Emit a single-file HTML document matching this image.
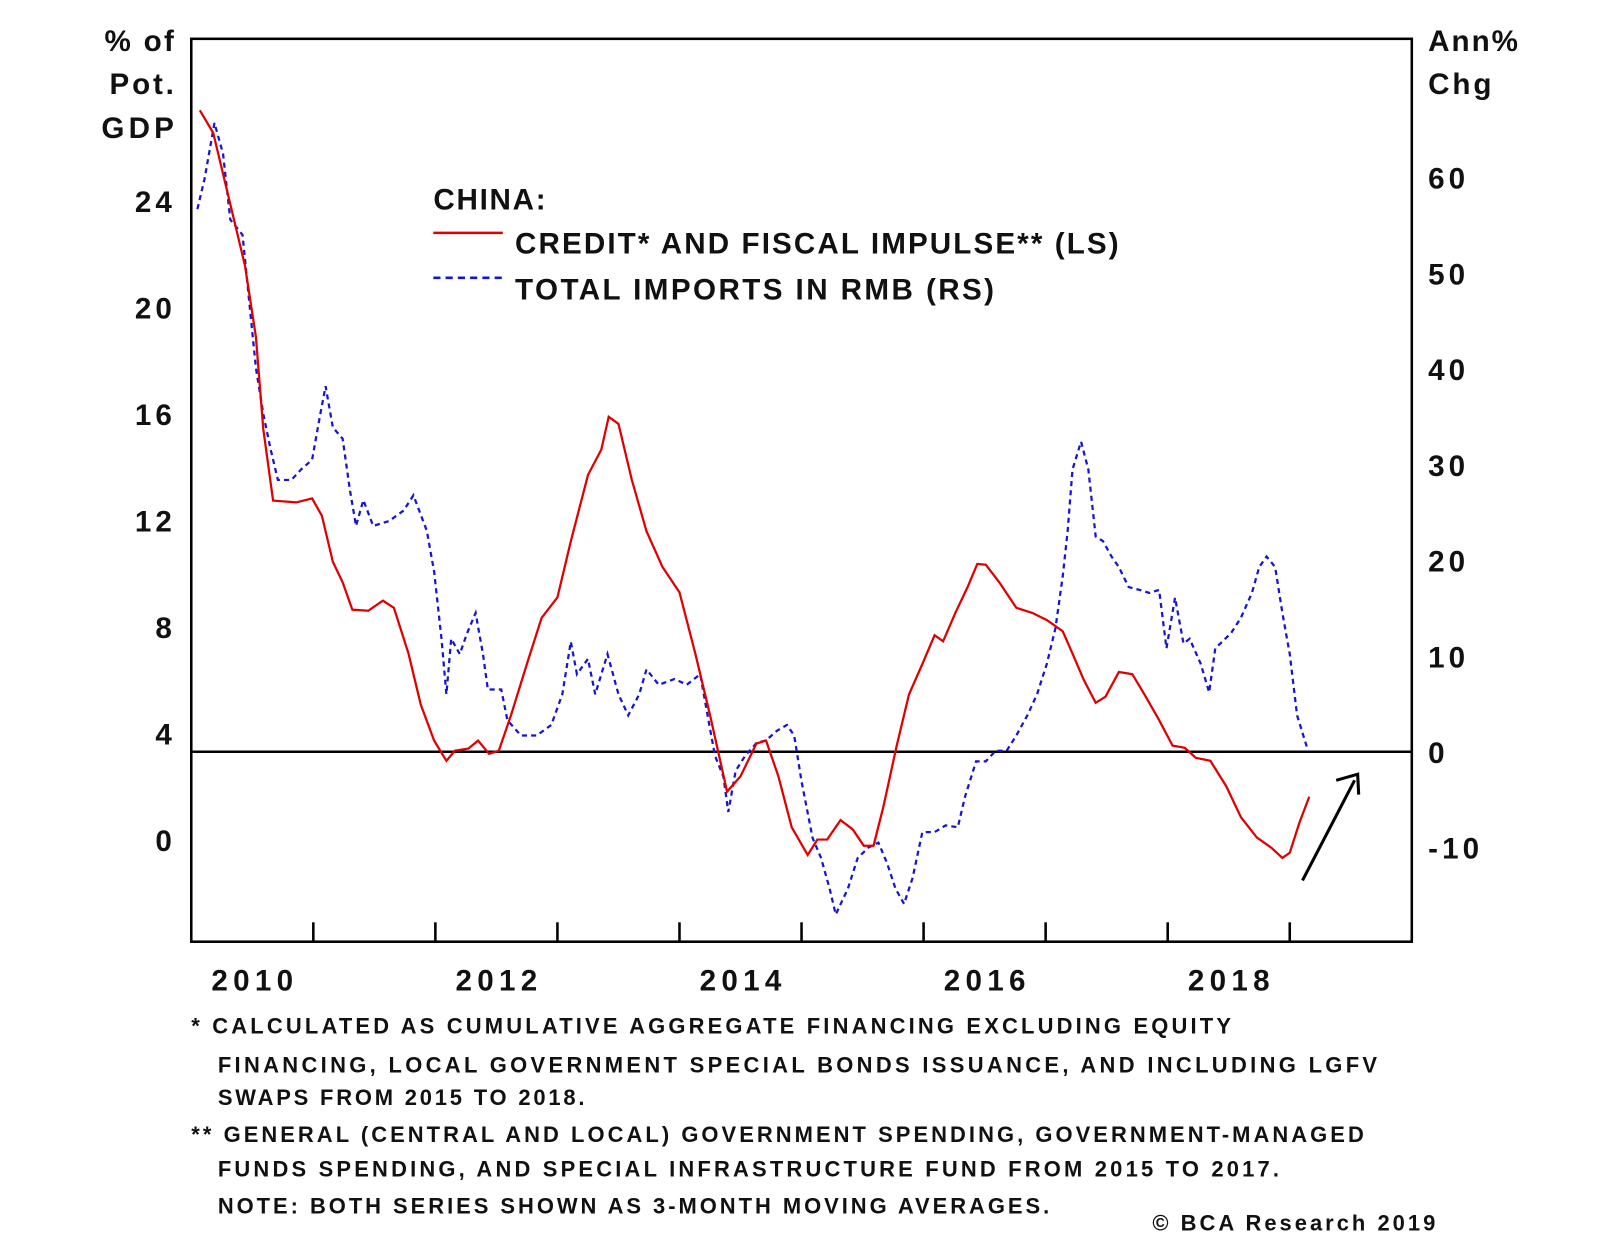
<!DOCTYPE html>
<html><head><meta charset="utf-8"><style>
html,body{margin:0;padding:0;background:#fff;}
svg{display:block;}
text{font-family:"Liberation Sans",Arial,sans-serif;font-weight:bold;fill:#111;}
</style></head><body>
<svg id="chart" width="1600" height="1243" viewBox="0 0 1566 1217" xmlns="http://www.w3.org/2000/svg">
<rect width="1566" height="1217" fill="#fff"/>
<g id="axes"></g>
<g id="series"></g>
<text x="170" y="50" text-anchor="end" font-size="29" textLength="68" lengthAdjust="spacing">% of</text>
<text x="170" y="92" text-anchor="end" font-size="29" textLength="63" lengthAdjust="spacing">Pot.</text>
<text x="170" y="135" text-anchor="end" font-size="29" textLength="71" lengthAdjust="spacing">GDP</text>
<text x="1398" y="50" font-size="29" textLength="88" lengthAdjust="spacing">Ann%</text>
<text x="1398" y="92" font-size="29" textLength="62" lengthAdjust="spacing">Chg</text>
<g>
<text x="424" y="205" font-size="29" textLength="110" lengthAdjust="spacing">CHINA:</text>
<line x1="424" y1="228" x2="492" y2="228" stroke="#e00000" stroke-width="2.5"/>
<text x="504" y="248" font-size="29" textLength="591" lengthAdjust="spacing">CREDIT* AND FISCAL IMPULSE** (LS)</text>
<line x1="424" y1="272" x2="492" y2="272" stroke="#1515d0" stroke-width="2.5" stroke-dasharray="7,5"/>
<text x="504" y="293" font-size="29" textLength="469" lengthAdjust="spacing">TOTAL IMPORTS IN RMB (RS)</text>
</g>
<g font-size="21.5">
<text x="187" y="1012" textLength="1018" lengthAdjust="spacing">*  CALCULATED AS CUMULATIVE AGGREGATE FINANCING EXCLUDING EQUITY</text>
<text x="213" y="1050" textLength="1135" lengthAdjust="spacing">FINANCING, LOCAL GOVERNMENT SPECIAL BONDS ISSUANCE, AND INCLUDING LGFV</text>
<text x="213" y="1082" textLength="359" lengthAdjust="spacing">SWAPS FROM 2015 TO 2018.</text>
<text x="187" y="1118" textLength="1148" lengthAdjust="spacing">** GENERAL (CENTRAL AND LOCAL) GOVERNMENT SPENDING, GOVERNMENT-MANAGED</text>
<text x="213" y="1152" textLength="1039" lengthAdjust="spacing">FUNDS SPENDING, AND SPECIAL INFRASTRUCTURE FUND FROM 2015 TO 2017.</text>
<text x="213" y="1188" textLength="814" lengthAdjust="spacing">NOTE: BOTH SERIES SHOWN AS 3-MONTH MOVING AVERAGES.</text>
<text x="1128" y="1205" textLength="277" lengthAdjust="spacing">© BCA Research 2019</text>
</g>
</svg>
<script>
const leftTicks=[0,4,8,12,16,20,24];
const rightTicks=[-10,0,10,20,30,40,50,60];
const yearLabels=["2010","2012","2014","2016","2018"];
const creditT=[0.07,0.18,0.32,0.44,0.53,0.59,0.67,0.86,0.99,1.07,1.16,1.24,1.32,1.45,1.57,1.66,1.78,1.88,1.99,2.09,2.16,2.27,2.35,2.44,2.52,2.62,2.75,2.87,3.00,3.11,3.25,3.36,3.42,3.50,3.61,3.73,3.86,4.00,4.13,4.25,4.39,4.50,4.63,4.71,4.81,4.92,5.05,5.13,5.21,5.32,5.42,5.51,5.59,5.67,5.78,5.88,5.99,6.09,6.16,6.26,6.36,6.44,6.51,6.62,6.76,6.89,7.01,7.14,7.22,7.31,7.41,7.49,7.60,7.71,7.81,7.93,8.04,8.14,8.23,8.35,8.48,8.60,8.73,8.85,8.94,9.00,9.08,9.16];
const creditV=[27.41,26.56,23.88,21.57,18.89,15.43,12.74,12.67,12.82,12.17,10.44,9.67,8.64,8.60,8.98,8.71,6.99,5.07,3.72,2.96,3.34,3.42,3.72,3.22,3.34,4.68,6.60,8.33,9.10,11.21,13.70,14.66,15.89,15.62,13.51,11.59,10.25,9.29,6.99,4.68,1.80,2.38,3.61,3.72,2.38,0.46,-0.58,0,0,0.73,0.38,-0.23,-0.23,1.23,3.53,5.45,6.60,7.68,7.45,8.52,9.48,10.36,10.33,9.67,8.71,8.52,8.25,7.83,6.99,6.03,5.14,5.37,6.30,6.22,5.45,4.49,3.53,3.45,3.07,2.96,2.00,0.84,0.08,-0.31,-0.69,-0.50,0.65,1.61];
const importsT=[0.05,0.11,0.19,0.26,0.32,0.42,0.47,0.53,0.59,0.65,0.71,0.82,0.90,0.99,1.05,1.10,1.16,1.24,1.30,1.35,1.41,1.49,1.62,1.74,1.82,1.93,1.99,2.05,2.09,2.13,2.20,2.26,2.33,2.39,2.43,2.54,2.59,2.70,2.83,2.95,3.04,3.11,3.16,3.25,3.31,3.41,3.50,3.58,3.67,3.73,3.83,3.96,4.06,4.17,4.23,4.29,4.36,4.40,4.46,4.54,4.63,4.71,4.80,4.88,4.94,5.00,5.09,5.16,5.23,5.28,5.38,5.46,5.55,5.63,5.70,5.77,5.84,5.91,5.99,6.09,6.18,6.28,6.34,6.43,6.51,6.59,6.68,6.76,6.85,6.93,7.01,7.08,7.14,7.18,7.22,7.29,7.35,7.41,7.47,7.54,7.60,7.68,7.77,7.85,7.93,7.99,8.06,8.13,8.18,8.27,8.34,8.39,8.52,8.60,8.69,8.75,8.81,8.88,8.94,9.00,9.06,9.15];
const importsV=[56.7,59.9,65.7,62.5,55.6,54.0,47.6,40.1,35.3,31.6,28.4,28.4,29.5,30.5,34.8,38.2,33.9,32.7,27.3,23.6,26.3,23.6,24.1,25.2,26.8,23.1,18.8,11.8,6.0,11.8,10.2,12.4,14.5,10.2,6.5,6.5,3.3,1.7,1.7,2.8,6.0,11.5,8.1,9.7,6.0,10.2,6.0,3.8,6.0,8.6,7.0,7.6,7.0,8.1,3.8,-0.4,-2.6,-6.3,-2.0,-0.4,0.9,1.2,2.2,2.8,1.7,-3.1,-9.0,-11.1,-14.3,-17.0,-14.3,-11.1,-10.0,-9.5,-11.6,-14.3,-15.9,-13.2,-8.4,-8.4,-7.7,-7.9,-4.7,-1.0,-1.0,0.1,0.1,1.7,3.8,6.0,9.2,12.9,18.3,23.0,29.5,32.4,29.5,22.5,22.0,20.4,19.3,17.2,16.9,16.6,16.9,10.8,16.1,11.3,11.8,9.2,6.2,10.8,12.4,14.0,16.6,19.3,20.4,19.3,14.5,10.2,3.8,0.1];

const NS="http://www.w3.org/2000/svg";
const L=187,R=1382,T=38,B=922;
function xScale(t){return L+t*119.5;}
function yLeft(v){return 822-v*26.05;}
function yRight(v){return 736-v*9.37;}
function mk(tag,attrs,parent){const e=document.createElementNS(NS,tag);for(const k in attrs)e.setAttribute(k,attrs[k]);parent.appendChild(e);return e;}
const axes=document.getElementById('axes');
const series=document.getElementById('series');

const frame=mk('rect',{x:L,y:T,width:R-L,height:B-T,fill:'none',stroke:'#000','stroke-width':2.5},axes);



for(let i=1;i<=9;i++){
  const tk=mk('line',{x1:xScale(i),x2:xScale(i),y1:B,y2:B-19,stroke:'#000','stroke-width':2.5},axes);
  
  
}
yearLabels.forEach((lab,i)=>{
  const tx=mk('text',{x:xScale(i*2+0.5)-40,y:970,'font-size':29,textLength:80,lengthAdjust:'spacing'},axes);
  tx.textContent=lab;
  
  
});
leftTicks.forEach(v=>{
  const tx=mk('text',{x:172,y:yLeft(v)+11,'text-anchor':'end','font-size':29,'letter-spacing':4},axes);
  tx.textContent=v;
  
  
});
rightTicks.forEach(v=>{
  const tx=mk('text',{x:1398,y:yRight(v)+11,'font-size':29,'letter-spacing':4},axes);
  tx.textContent=v;
  
  
});
const zl=mk('line',{x1:L,x2:R,y1:yRight(0),y2:yRight(0),stroke:'#000','stroke-width':2.5},axes);



function pts(ts,vs,yf){return ts.map((t,i)=>xScale(t).toFixed(1)+','+yf(vs[i]).toFixed(1)).join(' ');}
const imp=mk('polyline',{points:pts(importsT,importsV,yRight),fill:'none',stroke:'#1515d0','stroke-width':2.2,'stroke-dasharray':'5,4'},series);


const cr=mk('polyline',{points:pts(creditT,creditV,yLeft),fill:'none',stroke:'#e00000','stroke-width':2.2},series);



const arr=mk('g',{},series);


mk('line',{x1:1275,y1:862,x2:1326,y2:764,stroke:'#000','stroke-width':3},arr);
mk('polyline',{points:'1308,764 1329,758 1330,778',fill:'none',stroke:'#000','stroke-width':3},arr);
</script>
</body></html>
